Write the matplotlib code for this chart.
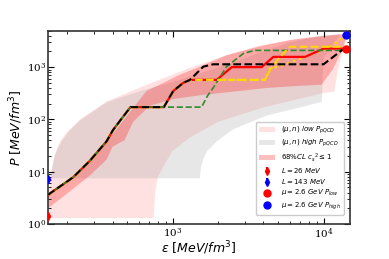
import matplotlib

matplotlib.use("Agg")

import matplotlib.pyplot as plt

plt.rcParams["font.family"] = "serif"
plt.rcParams["mathtext.fontset"] = "dejavusans"

# shared low-density part of all EoS curves
common_e = [150, 153, 219, 282, 365, 402, 459, 526]
common_p = [3.6, 3.8, 7.8, 16, 38, 62, 103, 172]

black_e = common_e + [875, 1009, 1176, 1303, 1597, 1858, 10000, 13200, 14000]
black_p = common_p + [172, 348, 500, 570, 1021, 1133, 1133, 2090, 2255]

red_e = common_e + [875, 1009, 1176, 1303, 1958, 2466, 3890, 4650, 7550, 10000, 14000]
red_p = common_p + [172, 348, 500, 570, 570, 1000, 1000, 1570, 1570, 2255, 2255]

gold_e = common_e + [875, 1009, 1176, 1303, 4090, 4430, 5150, 6000, 14000]
gold_p = common_p + [172, 348, 500, 570, 570, 887, 1570, 2450, 2450]

dot_e = common_e + [875, 1009, 1176, 1303, 4090, 4430, 5020, 6650, 8570, 11070, 13560, 14000]
dot_p = common_p + [172, 348, 500, 570, 570, 955, 1020, 1365, 1820, 2417, 3720, 4120]

green_e = common_e + [875, 1557, 1700, 1858, 2280, 2940, 3500, 12500, 14000]
green_p = common_p + [172, 172, 280, 403, 1021, 1820, 2090, 2090, 2255]

# (mu, n) low P_pQCD region
low_lo_e = [150, 750, 765, 800, 900, 1000, 1300, 2000, 4000, 7000, 10000, 11800, 12300, 13000, 14000, 14500]
low_lo_p = [1.3, 1.3, 4, 8, 15, 25, 45, 90, 170, 250, 320, 340, 700, 1500, 3000, 4300]
low_up_e = [150, 155, 165, 180, 200, 245, 365, 600, 825, 1370, 2280, 3795, 7000, 14500]
low_up_p = [3.0, 7, 20, 38, 58, 100, 220, 400, 580, 1020, 1690, 2600, 3500, 4300]

# (mu, n) high P_pQCD region
high_lo_e = [155, 1514, 1540, 1600, 1700, 1958, 2524, 4207, 7000, 9750, 10000, 13000]
high_lo_p = [7.5, 7.5, 12, 18, 25, 38, 65, 119, 170, 217, 1500, 4300]
high_up_e = [155, 158, 163, 172, 186, 205, 243, 365, 607, 1009, 1500, 2500, 4000, 6000, 9000, 13000]
high_up_p = [7.5, 11, 17, 27, 40, 58, 96, 211, 348, 520, 750, 1200, 2000, 3000, 3800, 4300]

# 68% CL band
cl_lo_e = [150, 153, 219, 282, 365, 400, 447, 480, 548, 706, 1000, 1518, 2524, 4207, 7000, 9700, 11500, 13500, 14200]
cl_lo_p = [2.0, 2.1, 4.7, 8.4, 17, 30, 36, 40, 90, 183, 244, 290, 340, 400, 440, 460, 900, 2300, 4300]
cl_up_e = [150, 219, 282, 365, 404, 671, 1117, 1442, 2280, 3800, 6000, 10000, 14200]
cl_up_p = [3.6, 7.8, 16, 38, 54, 348, 715, 960, 1690, 2500, 3300, 4000, 4300]

# constraint points
L_e = [150, 150]
L_p = [1.45, 7.3]
L_err = [0.15, 0.7]
mu_e = [14000, 14000]
mu_p = [2255, 4120]


def band(lo_e, lo_p, up_e, up_p):
    return lo_e + up_e[::-1], lo_p + up_p[::-1]


fig = plt.figure(figsize=(3.89, 2.59), dpi=100)
ax = fig.add_axes([0.124, 0.135, 0.776, 0.747])

e, p = band(low_lo_e, low_lo_p, low_up_e, low_up_p)
low_patch = ax.fill(e, p, color="#ff9c9c", alpha=0.3, lw=0,
                    label=r"$(\mu,n)$ $low$ $P_{pQCD}$")[0]
e, p = band(high_lo_e, high_lo_p, high_up_e, high_up_p)
high_patch = ax.fill(e, p, color="#a0a0a0", alpha=0.25, lw=0,
                     label=r"$(\mu,n)$ $high$ $P_{pQCD}$")[0]
e, p = band(cl_lo_e, cl_lo_p, cl_up_e, cl_up_p)
cl_patch = ax.fill(e, p, color="red", alpha=0.25, lw=0,
                   label=r"$68\%CL$ $c_s{}^2\leq 1$")[0]

ax.plot(dot_e, dot_p, color="gold", lw=1.8, ls=(0, (1, 1.6)), zorder=2.8)
ax.plot(red_e, red_p, color="red", lw=1.6, zorder=3)
ax.plot(green_e, green_p, color="#2e8b2e", lw=1.2, ls="--", zorder=3)
ax.plot(gold_e, gold_p, color="gold", lw=1.5, ls="--", zorder=3.2)
ax.plot(black_e, black_p, color="black", lw=1.5, ls="--", zorder=4)

e_red = ax.errorbar(L_e[:1], L_p[:1], yerr=L_err[:1], fmt="d", color="red",
                    ms=4, zorder=5, label=r"$L=26$ $MeV$")
e_blue = ax.errorbar(L_e[1:], L_p[1:], yerr=L_err[1:], fmt="d", color="blue",
                     ms=4, zorder=5, label=r"$L=143$ $MeV$")
(d_red,) = ax.plot(mu_e[:1], mu_p[:1], "o", color="red", ms=5, zorder=6,
                   clip_on=False, label=r"$\mu=2.6$ $GeV$ $P_{low}$")
(d_blue,) = ax.plot(mu_e[1:], mu_p[1:], "o", color="blue", ms=5, zorder=6,
                    clip_on=False, label=r"$\mu=2.6$ $GeV$ $P_{high}$")

ax.set_xscale("log")
ax.set_yscale("log")
ax.set_xlim(150, 15000)
ax.set_ylim(1, 5000)
ax.tick_params(which="both", direction="in", top=True, right=True, labelsize=7.5, pad=1.5)
ax.tick_params(which="major", length=4)
ax.tick_params(which="minor", length=2)
for s in ax.spines.values():
    s.set_linewidth(1.2)
    s.set_color("#333333")

ax.set_xlabel(r"$\epsilon$ $[MeV/fm^3]$", fontsize=9)
ax.xaxis.set_label_coords(0.5, -0.08)
ax.set_ylabel(r"$P$ $[MeV/fm^3]$", fontsize=9, labelpad=1)

ax.legend(handles=[low_patch, high_patch, cl_patch, e_red, e_blue, d_red, d_blue],
          loc="lower right", fontsize=5, handlelength=2.4, labelspacing=0.3,
          borderpad=0.4, handletextpad=0.8, framealpha=1.0,
          bbox_to_anchor=(0.99, 0.03))

fig.savefig("out.png", dpi=100)
